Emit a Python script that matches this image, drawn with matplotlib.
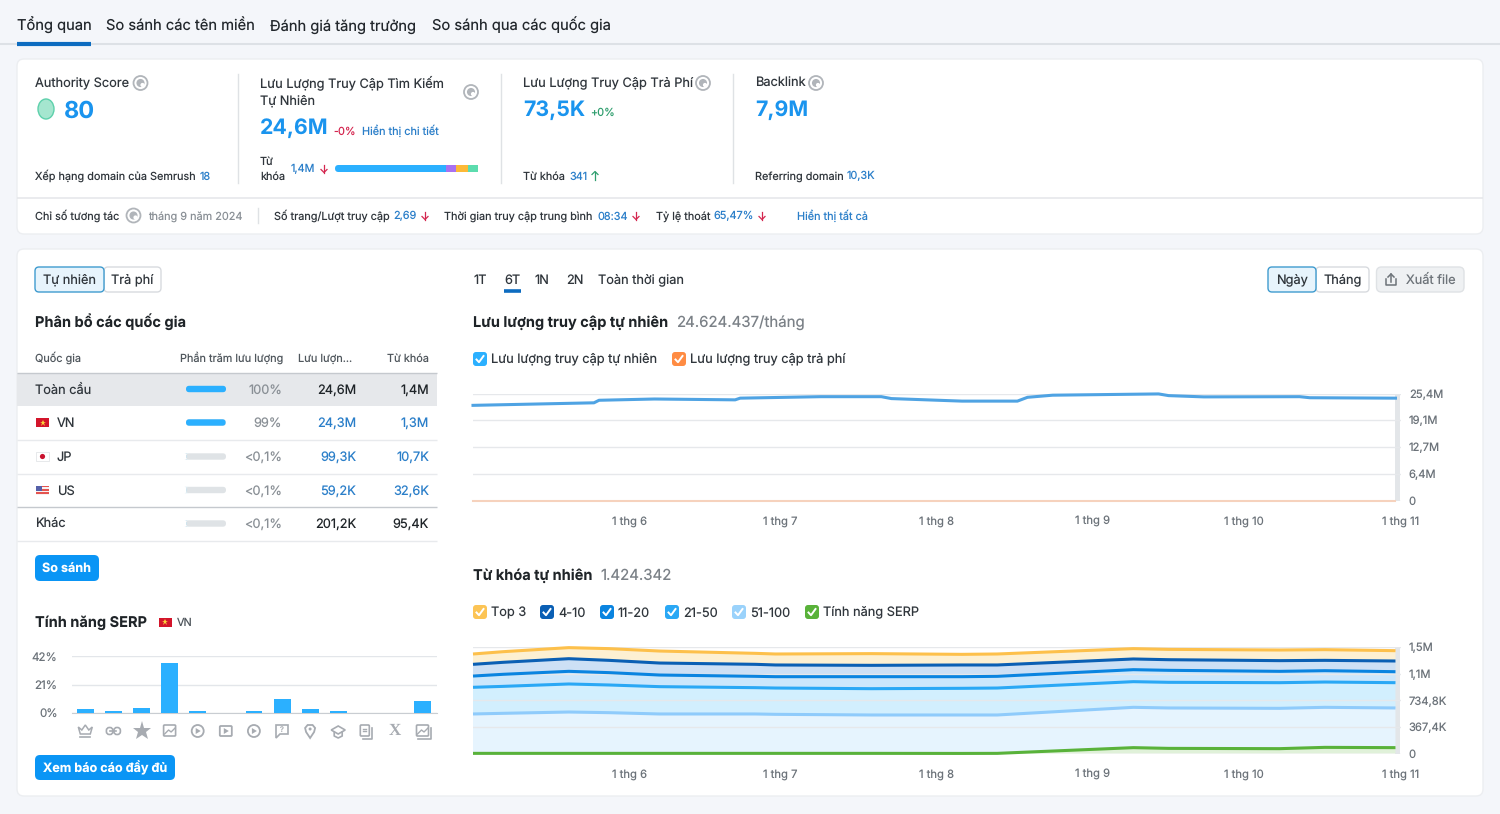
#!/usr/bin/env python3
import matplotlib
matplotlib.use('Agg')
import matplotlib.pyplot as plt
import numpy as np
from matplotlib.patches import FancyBboxPatch, Circle, Ellipse, Rectangle, Polygon

plt.rcParams['font.family'] = ['Inter', 'DejaVu Sans']
plt.rcParams['text.hinting'] = 'no_hinting'
plt.rcParams['text.hinting_factor'] = 1

# ---- data ----
tabs = ['Tổng quan', 'So sánh các tên miền', 'Đánh giá tăng trưởng', 'So sánh qua các quốc gia']

rows = ['Toàn cầu', 'VN', 'JP', 'US', 'Khác']
shares = [100, 99, 0.1, 0.1, 0.1]
share_labels = ['100%', '99%', '<0,1%', '<0,1%', '<0,1%']
row_traffic = ['24,6M', '24,3M', '99,3K', '59,2K', '201,2K']
row_keywords = ['1,4M', '1,3M', '10,7K', '32,6K', '95,4K']
kw_bar_shares = [77.5, 7, 8.5, 7]

serp_values = [3.0, 1.5, 3.7, 37.3, 1.5, 0, 1.5, 9.9, 2.5, 1.5, 0, 0, 8.7]
serp_ticks = [0, 21, 42]

traffic_dates = ['2024-05-01', '2024-05-25', '2024-05-26', '2024-06-06', '2024-06-22', '2024-06-23',
                 '2024-07-09', '2024-07-21', '2024-07-23', '2024-08-06', '2024-08-17', '2024-08-19',
                 '2024-08-24', '2024-09-14', '2024-09-16', '2024-09-23', '2024-10-12', '2024-10-14',
                 '2024-10-31']
organic = [22.6, 23.2, 23.8, 24.1, 23.9, 24.3, 24.65, 24.65, 24.2, 23.6, 23.6, 24.5,
           25.0, 25.3, 24.9, 24.6, 24.65, 24.4, 24.3]
paid = [0.07, 0.07, 0.07, 0.07, 0.07, 0.07, 0.07, 0.07, 0.07, 0.07, 0.07, 0.07,
        0.07, 0.07, 0.07, 0.07, 0.07, 0.07, 0.07]
traffic_ticks = [0, 6.4, 12.7, 19.1, 25.4]
traffic_ticklabels = ['0', '6,4M', '12,7M', '19,1M', '25,4M']

kw_dates = ['2024-05-01', '2024-05-07', '2024-05-20', '2024-05-28', '2024-06-07', '2024-06-26',
            '2024-06-30', '2024-07-19', '2024-08-06', '2024-08-13', '2024-09-09', '2024-09-16',
            '2024-10-08', '2024-10-17', '2024-10-31']
kw_serp = [2, 2, 2, 2, 2, 2, 2, 2, 1, 2, 81, 71, 67, 85, 81]
kw_51_100 = [545, 554, 572, 563, 545, 545, 540, 531, 532, 531, 558, 559, 558, 554, 549]
kw_21_50 = [369, 373, 388, 383, 378, 364, 364, 364, 369, 373, 355, 355, 355, 350, 350]
kw_11_20 = [156, 167, 175, 171, 161, 157, 157, 166, 161, 162, 166, 166, 157, 157, 152]
kw_4_10 = [162, 166, 175, 170, 166, 166, 162, 157, 162, 157, 148, 147, 148, 143, 148]
kw_top3 = [143, 147, 153, 162, 166, 152, 152, 162, 147, 152, 143, 143, 147, 148, 143]
kw_ticks = [0, 367.4, 734.8, 1102.2, 1469.6]
kw_ticklabels = ['0', '367,4K', '734,8K', '1,1M', '1,5M']

month_ticks = ['2024-06-01', '2024-07-01', '2024-08-01', '2024-09-01', '2024-10-01', '2024-11-01']
month_labels = ['1 thg 6', '1 thg 7', '1 thg 8', '1 thg 9', '1 thg 10', '1 thg 11']

INK = '#1f2428'
GREY = '#6c737a'
LINK = '#2b7fc9'
BRIGHT = '#1a94ee'
DOWN = '#d4264f'
UP = '#2f9e6e'
TAB = 14.7     # px sizes, measured against the reference widths
BODY = 12.8
SMALL = 10.9
BIG = 21.3
HEAD = 14.6

fig = plt.figure(figsize=(15, 8.14), dpi=100, facecolor='#f4f6fa')
bg = fig.add_axes([0, 0, 1, 1])
bg.set_xlim(0, 1500); bg.set_ylim(814, 0); bg.axis('off')


def txt(x, y, s, px=13, color=INK, ha='left', weight='normal', ax=bg):
    # y is the visual middle of the capitals, baseline sits just below it
    return ax.text(x, y + px * 0.36, s, fontsize=px * 0.72, color=color, ha=ha, va='baseline', fontweight=weight)


def box(x0, y0, x1, y1, r=4, fc='white', ec='none', lw=1, z=1):
    p = FancyBboxPatch((x0, y0), x1 - x0, y1 - y0, boxstyle=f'round,pad=0,rounding_size={r}',
                       fc=fc, ec=ec, lw=lw, zorder=z)
    bg.add_patch(p)


def hline(y, x0, x1, color='#e3e6ea', lw=1, z=2):
    bg.plot([x0, x1], [y, y], color=color, lw=lw, zorder=z, solid_capstyle='butt')


def globe(x, y, r=7):
    bg.add_patch(Circle((x, y), r, fc='none', ec='#b1b5ba', lw=1.3, zorder=3))
    bg.add_patch(Circle((x, y), r * 0.58, fc='#b1b5ba', ec='none', zorder=3))
    bg.add_patch(Circle((x + 2, y + 2), r * 0.3, fc='white', ec='none', zorder=3))


def arrow(x, y, up=False):
    s = -1 if up else 1
    c = UP if up else DOWN
    bg.plot([x, x], [y - 4 * s, y + 4 * s], color=c, lw=0.9, zorder=3)
    bg.plot([x - 3, x, x + 3], [y + 1 * s, y + 4 * s, y + 1 * s], color=c, lw=0.9, zorder=3)


def checkbox(x, y, color, label):
    box(x, y - 7, x + 14, y + 7, r=3, fc=color, z=3)
    bg.plot([x + 3.5, x + 6, x + 10.5], [y + 0.5, y + 3.2, y - 3], color='white', lw=1.4, zorder=4)
    txt(x + 18, y, label, BODY, '#30363c')


def flag(x, y, code):
    if code == 'VN':
        bg.add_patch(Rectangle((x, y - 4.5), 13, 9, fc='#d3152b', zorder=3))
        bg.plot([x + 6.5], [y], marker='*', ms=5, color='#fbd33b', mew=0, zorder=4)
    elif code == 'JP':
        bg.add_patch(Rectangle((x, y - 4.5), 13, 9, fc='white', ec='#e3e5e8', lw=.6, zorder=3))
        bg.add_patch(Circle((x + 6.5, y), 2.6, fc='#c9122e', zorder=4))
    else:
        bg.add_patch(Rectangle((x, y - 4.5), 13, 9, fc='#f8f1f1', zorder=3))
        for k in range(3):
            bg.add_patch(Rectangle((x, y - 4.5 + k * 3.3), 13, 1.7, fc='#e4534f', zorder=4))
        bg.add_patch(Rectangle((x, y - 4.5), 6, 5, fc='#5560a8', zorder=5))


# ---- top tabs ----
tab_x = [17, 106, 270, 431.5]
for x, s in zip(tab_x, tabs):
    txt(x, 25.5, s, TAB, '#22272c')
hline(44, 0, 1500, '#dde1e6', 1.5)
hline(43.5, 17, 91, '#0d6cc0', 3, z=3)

# ---- summary card ----
box(17, 59, 1483, 234, r=7, ec='#eceef1')
hline(197.5, 17, 1483, '#e6e8eb', 1.2)
for x in [237.5, 500.5, 732.5]:
    bg.plot([x, x], [74, 183], color='#dfe2e5', lw=1, zorder=2)

txt(35, 82.5, 'Authority Score', BODY, '#30363c')
globe(140.5, 83)
bg.add_patch(Ellipse((46, 109), 16, 20, fc='#a5e6cf', ec='#5dd0ab', lw=1, zorder=3))
txt(64, 109, '80', 23.5, BRIGHT, weight='bold')
txt(35, 175.5, 'Xếp hạng domain của Semrush', SMALL, '#30363c')
txt(200, 175.5, '18', SMALL, LINK)

txt(260, 82.5, 'Lưu Lượng Truy Cập Tìm Kiếm', BODY, '#30363c')
txt(260, 100.5, 'Tự Nhiên', BODY, '#30363c')
globe(471, 92)
txt(260, 126, '24,6M', BIG, BRIGHT, weight='bold')
txt(333, 130.5, '-0%', SMALL, DOWN)
txt(362, 130.5, 'Hiển thị chi tiết', SMALL, LINK)
txt(260, 161, 'Từ', SMALL, '#30363c')
txt(260, 175.5, 'khóa', SMALL, '#30363c')
txt(291, 168.5, '1,4M', SMALL, LINK)
arrow(324, 168.5)
kw_colors = ['#2bb0ff', '#a871f0', '#fcb937', '#5cdcae']
kw_left = 335.0
box(335, 165, 478, 172, r=3.5, fc='#2bb0ff', z=2)
for v, c in zip(kw_bar_shares, kw_colors):
    w = v / 100 * 143
    if c != kw_colors[0]:
        bg.add_patch(Rectangle((kw_left, 165), w, 7, fc=c, zorder=3))
    kw_left += w

txt(523, 82.5, 'Lưu Lượng Truy Cập Trả Phí', BODY, '#30363c')
globe(703, 83)
txt(523, 108.5, '73,5K', BIG, BRIGHT, weight='bold')
txt(590, 112, '+0%', SMALL, UP)
txt(523, 175.5, 'Từ khóa', SMALL, '#30363c')
txt(569.5, 175.5, '341', SMALL, LINK)
arrow(595, 175.5, up=True)

txt(755, 82.5, 'Backlink', BODY, '#30363c')
globe(816, 83)
txt(755, 108.5, '7,9M', BIG, BRIGHT, weight='bold')
txt(755, 175.5, 'Referring domain', SMALL, '#30363c')
txt(847, 175.5, '10,3K', SMALL, LINK)

txt(35, 215.5, 'Chỉ số tương tác', SMALL, '#30363c')
globe(133.5, 215.5)
txt(148, 215.5, 'tháng 9 năm 2024', SMALL, '#8a9096')
bg.plot([258, 258], [208, 223], color='#dfe2e5', lw=1, zorder=2)
txt(273.5, 215.5, 'Số trang/Lượt truy cập', SMALL, '#30363c')
txt(393.5, 215.5, '2,69', SMALL, LINK)
arrow(425, 215.5)
txt(444.5, 215.5, 'Thời gian truy cập trung bình', SMALL, '#30363c')
txt(597, 215.5, '08:34', SMALL, LINK)
arrow(636, 215.5)
txt(655.5, 215.5, 'Tỷ lệ thoát', SMALL, '#30363c')
txt(713, 215.5, '65,47%', SMALL, LINK)
arrow(762, 215.5)
txt(797, 215.5, 'Hiển thị tất cả', SMALL, LINK)

# ---- main card ----
box(17, 249, 1483, 796, r=7, ec='#eceef1')

box(104, 267, 161, 292, r=4, fc='white', ec='#d8dbdf', z=2)
box(35, 267, 104, 292, r=4, fc='#e7f4fc', ec='#3f9bcf', z=3)
txt(69.5, 280, 'Tự nhiên', BODY, '#30363c', ha='center')
txt(132.5, 280, 'Trả phí', BODY, '#30363c', ha='center')

txt(35, 321.5, 'Phân bổ các quốc gia', HEAD, INK, weight='bold')

txt(35, 358, 'Quốc gia', SMALL, '#50575d')
txt(283, 358, 'Phần trăm lưu lượng', SMALL, '#50575d', ha='right')
txt(297.5, 358, 'Lưu lượn...', SMALL, '#50575d')
txt(429, 358, 'Từ khóa', SMALL, '#50575d', ha='right')

bg.add_patch(Rectangle((17, 372.5), 420, 33.5, fc='#e6e8eb', zorder=2))
hline(372.5, 17, 437, '#c5c9ce', 1)
row_y = [389, 422.5, 456.5, 490, 523.5]
for y in [439.5, 473.5, 540.5]:
    hline(y, 17, 437, '#e8eaed', 1)
hline(507, 17, 437, '#c5c9ce', 1)
for i, (name, y) in enumerate(zip(rows, row_y)):
    linked = name in ('VN', 'JP', 'US')
    if linked:
        flag(36, y, name)
        txt(57, y, name, BODY, '#30363c')
    else:
        txt(35, y, name, BODY, '#30363c')
    box(186, y - 3.2, 226, y + 3.2, r=3.2, fc='#dfe3e6', z=3)
    box(186, y - 3.2, 186 + max(shares[i], 3) * 0.4, y + 3.2, r=3.2, fc='#2bb0ff' if shares[i] > 1 else '#cfe4ee', z=4)
    txt(282, y, share_labels[i], BODY, '#8a9096', ha='right')
    col = LINK if linked else INK
    txt(356, y, row_traffic[i], BODY, col, ha='right')
    txt(429, y, row_keywords[i], BODY, col, ha='right')

box(35, 555, 99, 581, r=5, fc='#0a95f5', z=2)
txt(67, 568, 'So sánh', 12.6, 'white', ha='center', weight='bold')

# ---- SERP features ----
txt(35, 621.5, 'Tính năng SERP', HEAD, INK, weight='bold')
flag(158.5, 622, 'VN')
txt(176.5, 622, 'VN', SMALL, '#50575d')

ax_s = fig.add_axes([71.5 / 1500, 1 - 712.7 / 814, 365.5 / 1500, 56.4 / 814])
ax_s.patch.set_alpha(0)
xs = np.arange(len(serp_values))
ax_s.bar(xs, serp_values, width=0.6, color='#2bb0ff', zorder=3)
ax_s.set_xlim(-0.49, 12.51)
ax_s.set_ylim(0, 42)
ax_s.set_yticks(serp_ticks)
ax_s.set_yticklabels([f'{v}%' for v in serp_ticks], fontsize=8.3, color='#6c737a')
ax_s.set_xticks([])
ax_s.tick_params(length=0, pad=10)
ax_s.grid(axis='y', color='#e3e6ea', lw=1)
ax_s.set_axisbelow(True)
for k, sp in ax_s.spines.items():
    sp.set_visible(False)
ax_s.spines['bottom'].set_visible(True)
ax_s.spines['bottom'].set_color('#c9cdd2')

# icon row under the bars, drawn on the page layer
ICON = '#a7abb1'
icon_xs = [85.3 + 28.1 * i for i in range(13)]
iy = 731
for i, x in enumerate(icon_xs):
    if i == 0:
        bg.add_patch(Polygon([[x - 7, iy - 4], [x - 3.5, iy - 1], [x, iy - 6], [x + 3.5, iy - 1], [x + 7, iy - 4], [x + 5, iy + 3], [x - 5, iy + 3]],
                             fc='none', ec=ICON, lw=1.1, zorder=3))
        bg.plot([x - 5, x + 5], [iy + 6, iy + 6], color=ICON, lw=1.2)
    elif i == 1:
        box(x - 7, iy - 3.5, x - 0.5, iy + 3.5, r=3, fc='none', ec=ICON, lw=1.2, z=3)
        box(x + 0.5, iy - 3.5, x + 7, iy + 3.5, r=3, fc='none', ec=ICON, lw=1.2, z=3)
        bg.plot([x - 3, x + 3], [iy, iy], color=ICON, lw=1.2, zorder=4)
    elif i == 2:
        bg.plot([x], [iy], marker='*', ms=14, color=ICON, mew=0, zorder=3)
    elif i in (3, 12):
        box(x - 6, iy - 6, x + 6, iy + 5, r=1, fc='none', ec=ICON, lw=1.2, z=3)
        bg.plot([x - 5, x - 1, x + 1.5, x + 5.5], [iy + 3, iy - 1, iy + 1, iy - 3], color=ICON, lw=1)
        if i == 12:
            bg.plot([x - 5, x + 8, x + 8], [iy + 8, iy + 8, iy - 3], color=ICON, lw=1.2)
    elif i in (4, 6):
        bg.add_patch(Circle((x, iy), 6, fc='none', ec=ICON, lw=1.3, zorder=3))
        bg.add_patch(Polygon([[x - 2, iy - 3], [x + 3, iy], [x - 2, iy + 3]], fc=ICON, zorder=3))
    elif i == 5:
        box(x - 6, iy - 5, x + 6, iy + 5, r=1, fc='none', ec=ICON, lw=1.3, z=3)
        bg.add_patch(Polygon([[x - 2, iy - 3], [x + 3, iy], [x - 2, iy + 3]], fc=ICON, zorder=3))
    elif i == 7:
        bg.add_patch(Polygon([[x - 6, iy - 6], [x + 6, iy - 6], [x + 6, iy + 3], [x - 2, iy + 3], [x - 6, iy + 7]], fc='none', ec=ICON, lw=1.2, zorder=3))
        txt(x, iy - 1.5, '?', 7.5, ICON, ha='center')
    elif i == 8:
        bg.add_patch(Polygon([[x - 5, iy - 3], [x - 2.5, iy - 6], [x + 2.5, iy - 6], [x + 5, iy - 3], [x + 4, iy + 1], [x, iy + 7], [x - 4, iy + 1]], fc='none', ec=ICON, lw=1.3, zorder=3))
        bg.add_patch(Circle((x, iy - 2), 1.5, fc=ICON, zorder=3))
    elif i == 9:
        bg.add_patch(Polygon([[x - 7, iy - 1], [x, iy - 5], [x + 7, iy - 1], [x, iy + 3]], fc='none', ec=ICON, lw=1.2, zorder=3))
        bg.plot([x - 4, x - 4, x, x + 4, x + 4], [iy + 1, iy + 5, iy + 7, iy + 5, iy + 1], color=ICON, lw=1.2)
    elif i == 10:
        box(x - 6, iy - 6, x + 3, iy + 5, r=1, fc='none', ec=ICON, lw=1.2, z=3)
        bg.plot([x - 3, x], [iy - 2.5, iy - 2.5], color=ICON, lw=1)
        bg.plot([x - 3, x], [iy, iy], color=ICON, lw=1)
        bg.plot([x - 3, x + 6, x + 6], [iy + 7.5, iy + 7.5, iy - 3], color=ICON, lw=1.2)
    elif i == 11:
        bg.text(x, iy, 'X', fontsize=12, color=ICON, ha='center', va='center', family='Liberation Serif', fontweight='bold')

box(35, 755, 175, 780, r=5, fc='#0a95f5', z=2)
txt(105, 767.5, 'Xem báo cáo đầy đủ', 12.6, 'white', ha='center', weight='bold')

# ---- right side controls ----
for x, s in zip([474, 504, 535, 566, 598], ['1T', '6T', '1N', '2N', 'Toàn thời gian']):
    txt(x, 279.5, s, BODY, '#30363c')
hline(291, 504, 520.5, '#0d6cc0', 2.6)

box(1316, 267, 1369, 292, r=4, fc='white', ec='#d8dbdf', z=2)
box(1268, 267, 1316, 292, r=4, fc='#e7f4fc', ec='#3f9bcf', z=3)
txt(1292, 280, 'Ngày', BODY, '#30363c', ha='center')
txt(1342.5, 280, 'Tháng', BODY, '#30363c', ha='center')
box(1376.5, 267, 1464, 292, r=5, fc='#eff1f3', ec='#dfe2e5', z=2)
bg.plot([1386, 1386, 1396, 1396], [279, 285, 285, 279], color='#6d7379', lw=1.1, zorder=3)
bg.plot([1391, 1391], [274, 282], color='#6d7379', lw=1.1, zorder=3)
bg.plot([1388, 1391, 1394], [277, 274, 277], color='#6d7379', lw=1.1, zorder=3)
txt(1405.5, 279.5, 'Xuất file', BODY, '#6d7379')

txt(473, 321.5, 'Lưu lượng truy cập tự nhiên', HEAD, INK, weight='bold')
txt(676, 321.5, '24.624.437/tháng', 15, '#7b8187')
checkbox(473, 359, '#2bb0ff', 'Lưu lượng truy cập tự nhiên')
checkbox(672, 359, '#ff8c43', 'Lưu lượng truy cập trả phí')

txt(473, 574.5, 'Từ khóa tự nhiên', HEAD, INK, weight='bold')
txt(600.5, 574.5, '1.424.342', 15, '#7b8187')
checkbox(473, 612, '#fcc455', 'Top 3')
checkbox(540, 612, '#0a5fb4', '4-10')
checkbox(600, 612, '#0a84e0', '11-20')
checkbox(665, 612, '#2aa8f5', '21-50')
checkbox(732, 612, '#9ad2fb', '51-100')
checkbox(805, 612, '#59b23a', 'Tính năng SERP')


def chart_axes(top, bottom, ticks, ticklabels, ymax):
    ax = fig.add_axes([473 / 1500, 1 - bottom / 814, (1400.5 - 473) / 1500, (bottom - top) / 814])
    ax.patch.set_alpha(0)
    ax.set_xlim(np.datetime64('2024-05-01'), np.datetime64('2024-11-01'))
    ax.set_ylim(0, ymax)
    ax.yaxis.tick_right()
    ax.set_yticks(ticks)
    ax.set_yticklabels(ticklabels, fontsize=8.1, color='#6c737a')
    ax.set_xticks(np.array(month_ticks, dtype='datetime64[D]'))
    ax.set_xticklabels(month_labels, fontsize=8.1, color='#6c737a')
    ax.tick_params(axis='y', length=0, pad=6)
    ax.tick_params(axis='x', length=0, pad=11)
    ax.grid(axis='y', color='#e6e8eb', lw=1, zorder=5)
    ax.set_axisbelow(False)
    for sp in ax.spines.values():
        sp.set_visible(False)
    ax.axvspan(np.datetime64('2024-10-31'), np.datetime64('2024-11-01'), color='#e3e6e9', lw=0, zorder=1)
    return ax


ax1 = chart_axes(393.5, 501, traffic_ticks, traffic_ticklabels, 25.4)
t1 = np.array(traffic_dates, dtype='datetime64[D]')
ax1.plot(t1, paid, color='#f6d2bd', lw=1.5, clip_on=False, zorder=6)
ax1.plot(t1, organic, color='#4fa3e3', lw=2.2, clip_on=False, zorder=6)

ax2 = chart_axes(647.3, 753.5, kw_ticks, kw_ticklabels, 1469.6)
t2 = np.array(kw_dates, dtype='datetime64[D]')
bands = [kw_serp, kw_51_100, kw_21_50, kw_11_20, kw_4_10, kw_top3]
fills = ['#e0f1d9', '#e6f4fe', '#d2effe', '#cbe7fc', '#cde0f5', '#fdf0d2']
lines = ['#59b23a', '#8fcbfb', '#2aa8f5', '#0a84e0', '#0a5fb4', '#fdc04b']
ax2.stackplot(t2, *bands, colors=fills, lw=0, zorder=2)
tops = np.cumsum(np.array(bands), axis=0)
for y, c in zip(tops, lines):
    ax2.plot(t2, y, color=c, lw=2.2, clip_on=False, zorder=6, solid_capstyle='butt')

fig.savefig('out.png', dpi=100, facecolor=fig.get_facecolor())
